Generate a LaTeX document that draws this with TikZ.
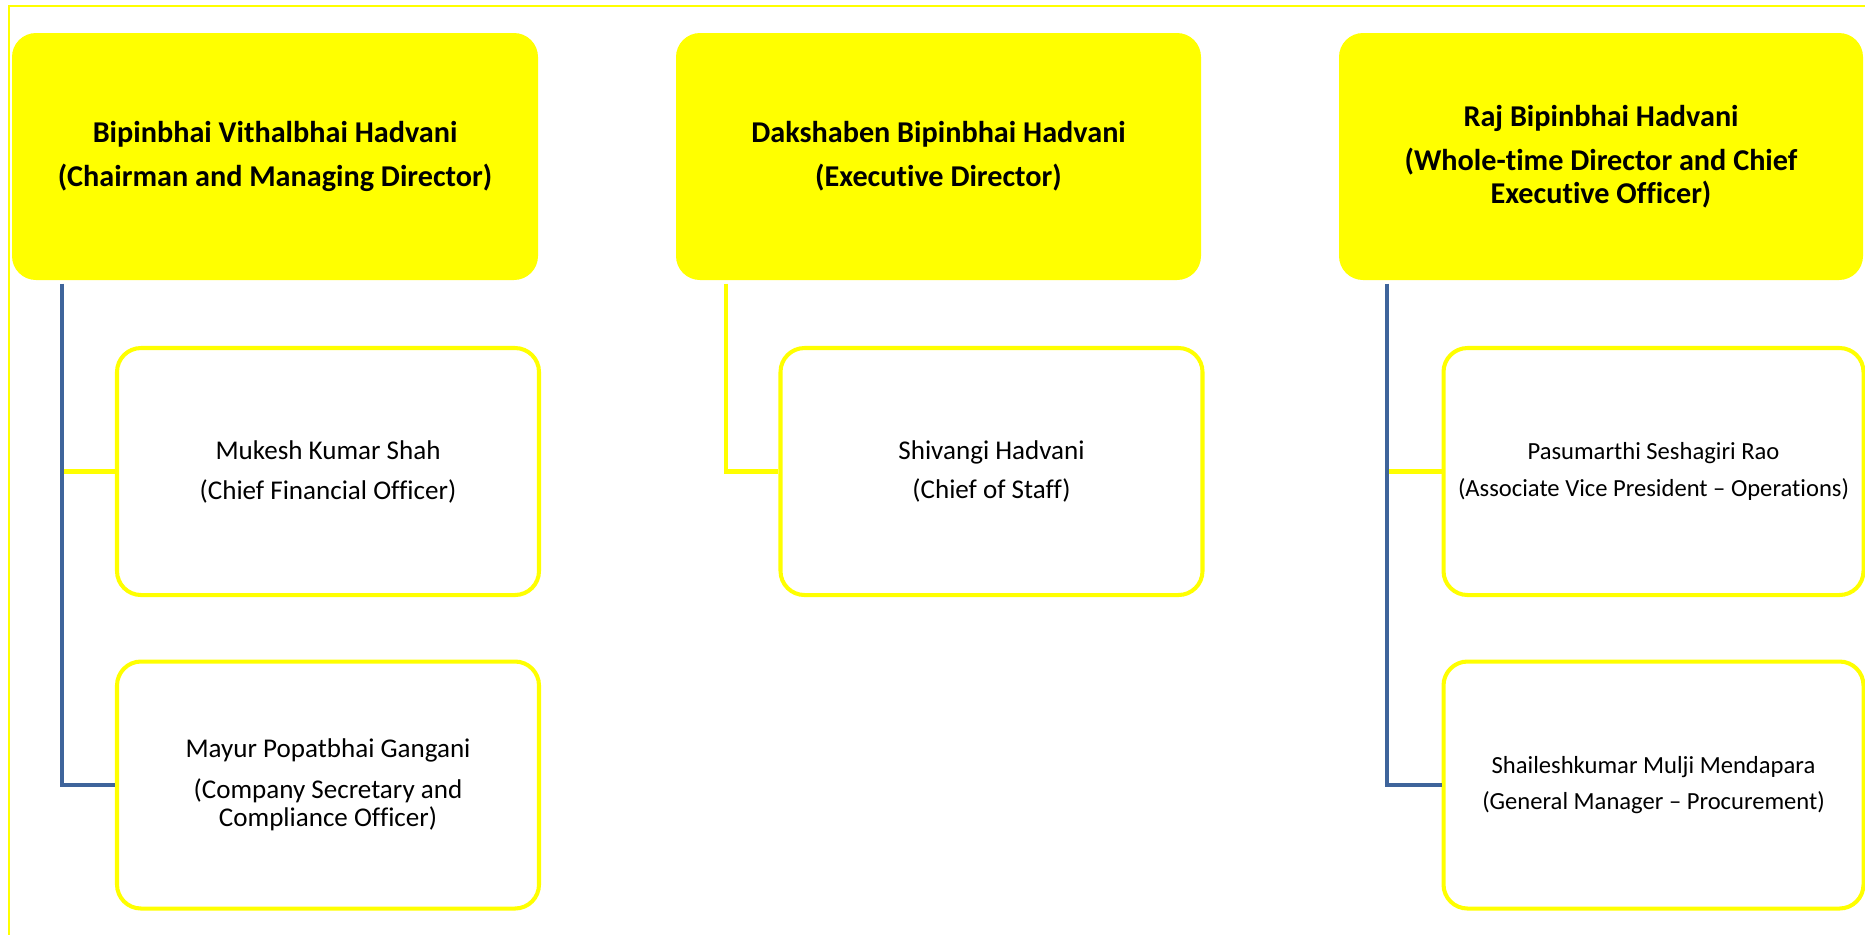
\documentclass[tikz,border=0pt]{standalone}
\usepackage{fontspec}
\setmainfont[Ligatures={TeX,NoCommon}]{Carlito}
\definecolor{ocyellow}{RGB}{255,255,0}
\definecolor{ocblue}{RGB}{62,100,155}

\begin{document}
\begin{tikzpicture}[
  head/.style={fill=ocyellow,rounded corners=0.24cm,minimum width=5.25cm,minimum height=2.47cm,align=center,font=\fontsize{8.6}{9.4}\selectfont\bfseries},
  staff/.style={draw=ocyellow,line width=1.15pt,fill=white,rounded corners=0.24cm,minimum width=4.22cm,minimum height=2.47cm,align=center,font=\fontsize{7.7}{8.1}\selectfont},
  small/.style={font=\fontsize{7}{8.4}\selectfont},
  trunk/.style={draw=ocblue,line width=1.15pt},
  twig/.style={draw=ocyellow,line width=1.15pt}]
\useasboundingbox (0,0) rectangle (18.65,-9.34);
\draw[ocyellow,line width=0.6pt] (0.09,-9.6) |- (18.9,-0.06);
\node[head,minimum width=5.26cm] (cmd) at (2.75,-1.565) {Bipinbhai Vithalbhai Hadvani\\[3.1pt](Chairman and Managing Director)};
\node[head] (ed) at (9.385,-1.565) {Dakshaben Bipinbhai Hadvani\\[3.1pt](Executive Director)};
\node[head,minimum width=5.24cm] (ceo) at (16.01,-1.565) {Raj Bipinbhai Hadvani\\[3.1pt](Whole-time Director and Chief\\Executive Officer)};
\node[staff] (cfo) at (3.28,-4.715) {Mukesh Kumar Shah\\[3.3pt](Chief Financial Officer)};
\node[staff] (cs) at (3.28,-7.85) {Mayur Popatbhai Gangani\\[3.3pt](Company Secretary and\\Compliance Officer)};
\node[staff] (cos) at (9.915,-4.715) {Shivangi Hadvani\\[3pt](Chief of Staff)};
\node[staff,small,minimum width=4.2cm] (avp) at (16.535,-4.715) {Pasumarthi Seshagiri Rao\\[2.1pt](Associate Vice President – Operations)};
\node[staff,small,minimum width=4.2cm] (gm) at (16.535,-7.85) {Shaileshkumar Mulji Mendapara\\[2.1pt](General Manager – Procurement)};
\coordinate (t1) at ([xshift=0.51cm,yshift=-0.03cm]cmd.south west);
\coordinate (t2) at ([xshift=0.505cm,yshift=-0.03cm]ed.south west);
\coordinate (t3) at ([xshift=0.49cm,yshift=-0.03cm]ceo.south west);
\draw[twig] (t1 |- cfo.west) -- (cfo.west);
\draw[trunk] (t1) |- (cs.west);
\draw[twig] (t2) |- (cos.west);
\draw[twig] (t3 |- avp.west) -- (avp.west);
\draw[trunk] (t3) |- (gm.west);
\end{tikzpicture}
\end{document}
